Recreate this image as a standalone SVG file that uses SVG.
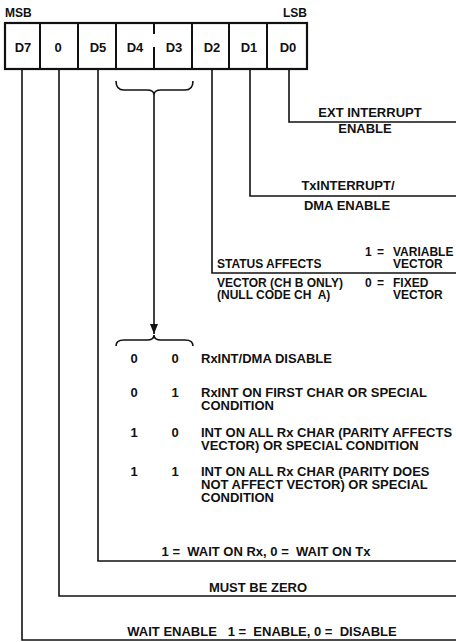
<svg xmlns="http://www.w3.org/2000/svg" width="456" height="642" viewBox="0 0 456 642">
<style>
  .t { font-family: "Liberation Sans", Arial, Helvetica, sans-serif; font-weight: bold; font-size: 13px; fill: #111; }
  .s { font-size: 12px; }
  .m { text-anchor: middle; }
  .pre { white-space: pre; }
  .ln { fill: none; stroke: #111; stroke-width: 1.6; }
  .box { fill: #fff; stroke: #111; stroke-width: 2.2; }
  .div { stroke: #111; stroke-width: 2; }
</style>
<defs>
  <marker id="ah" markerWidth="10" markerHeight="8" refX="10" refY="4" orient="auto" markerUnits="userSpaceOnUse" viewBox="0 0 10 8">
    <path d="M0 0 L10 4 L0 8 Z" fill="#111"/>
  </marker>
</defs>
<rect width="456" height="642" fill="#fff"/>

<g id="msb-lsb">
  <text class="t s" x="5" y="16.5">MSB</text>
  <text class="t s" x="307" y="16.5" text-anchor="end">LSB</text>
</g>

<g id="register">
  <rect class="box" x="5" y="23" width="302" height="46"/>
  <line class="div" x1="40" y1="23" x2="40" y2="69"/>
  <line class="div" x1="78" y1="23" x2="78" y2="69"/>
  <line class="div" x1="116" y1="23" x2="116" y2="69"/>
  <line class="div" x1="154" y1="23" x2="154" y2="34"/>
  <line class="div" x1="154" y1="47" x2="154" y2="69"/>
  <line class="div" x1="192" y1="23" x2="192" y2="69"/>
  <line class="div" x1="229" y1="23" x2="229" y2="69"/>
  <line class="div" x1="267" y1="23" x2="267" y2="69"/>
  <text class="t m" x="23" y="52">D7</text>
  <text class="t m" x="58" y="52">0</text>
  <text class="t m" x="98" y="52">D5</text>
  <text class="t m" x="135" y="52">D4</text>
  <text class="t m" x="174" y="52">D3</text>
  <text class="t m" x="212" y="52">D2</text>
  <text class="t m" x="249" y="52">D1</text>
  <text class="t m" x="288" y="52">D0</text>
</g>

<g id="connectors">
  <path class="ln" d="M289 69 V122 H456"/>
  <path class="ln" d="M250 69 V196 H456"/>
  <path class="ln" d="M212 69 V273 H456"/>
  <path class="ln" d="M98 69 V561 H456"/>
  <path class="ln" d="M59 69 V596 H456"/>
  <path class="ln" d="M22 69 V640 H456"/>
  <path class="ln" d="M116 81 Q116 90 124 90 H147 Q154 90 154 95 Q154 90 161 90 H185 Q193 90 193 81"/>
  <path class="ln" d="M154 95 V334" marker-end="url(#ah)"/>
  <path class="ln" d="M116 346 Q116 340 124 340 H147 Q154 340 154 335 Q154 340 161 340 H185 Q193 340 193 346"/>
</g>

<g id="ext-interrupt">
  <text class="t m" x="370" y="117">EXT INTERRUPT</text>
  <text class="t m" x="365" y="133">ENABLE</text>
</g>

<g id="tx-interrupt">
  <text class="t m" x="348" y="190">TxINTERRUPT/</text>
  <text class="t m" x="347" y="210">DMA ENABLE</text>
</g>

<g id="status-affects">
  <text class="t s" x="217" y="268">STATUS AFFECTS</text>
  <text class="t s" x="217" y="287">VECTOR (CH B ONLY)</text>
  <text class="t s pre" x="217" y="299">(NULL CODE CH  A)</text>
  <text class="t s"><tspan x="365" y="256">1</tspan><tspan x="377" y="256">=</tspan><tspan x="393" y="256">VARIABLE</tspan></text>
  <text class="t s" x="393" y="268">VECTOR</text>
  <text class="t s"><tspan x="365" y="287">0</tspan><tspan x="377" y="287">=</tspan><tspan x="393" y="287">FIXED</tspan></text>
  <text class="t s" x="393" y="299">VECTOR</text>
</g>

<g id="rx-table">
  <text class="t m" x="134" y="363">0</text>
  <text class="t m" x="175" y="363">0</text>
  <text class="t" x="201" y="363">RxINT/DMA DISABLE</text>

  <text class="t m" x="134" y="397">0</text>
  <text class="t m" x="175" y="397">1</text>
  <text class="t" x="201" y="397">RxINT ON FIRST CHAR OR SPECIAL</text>
  <text class="t" x="201" y="410">CONDITION</text>

  <text class="t m" x="134" y="437">1</text>
  <text class="t m" x="175" y="437">0</text>
  <text class="t" x="201" y="437">INT ON ALL Rx CHAR (PARITY AFFECTS</text>
  <text class="t" x="201" y="450">VECTOR) OR SPECIAL CONDITION</text>

  <text class="t m" x="134" y="476">1</text>
  <text class="t m" x="175" y="476">1</text>
  <text class="t" x="201" y="476">INT ON ALL Rx CHAR (PARITY DOES</text>
  <text class="t" x="201" y="489">NOT AFFECT VECTOR) OR SPECIAL</text>
  <text class="t" x="201" y="502">CONDITION</text>
</g>

<g id="wait-rx-tx">
  <text class="t m pre" x="266" y="556">1 =  WAIT ON Rx, 0 =  WAIT ON Tx</text>
</g>

<g id="must-be-zero">
  <text class="t m" x="258" y="592">MUST BE ZERO</text>
</g>

<g id="wait-enable">
  <text class="t m pre" x="262" y="636">WAIT ENABLE   1 =  ENABLE, 0 =  DISABLE</text>
</g>
</svg>
